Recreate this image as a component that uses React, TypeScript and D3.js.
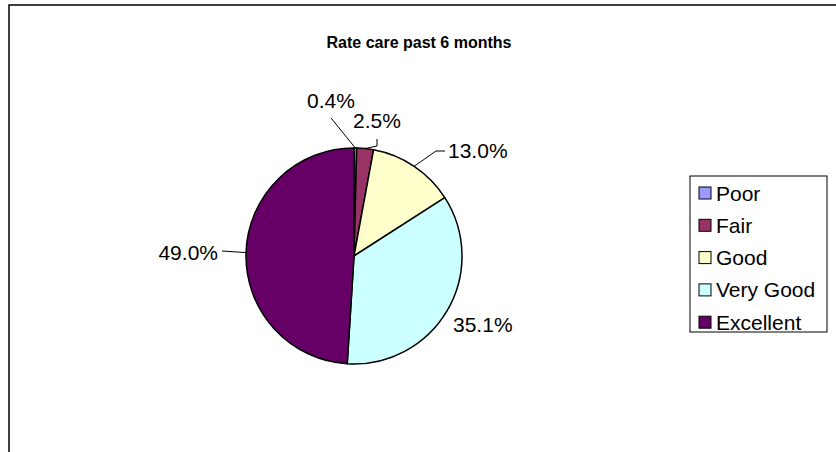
import React from "react";
import * as d3 from "d3";

const categories = ["Poor", "Fair", "Good", "Very Good", "Excellent"];
const values = [0.4, 2.5, 13.0, 35.1, 49.0];
const colors = ["#9999FF", "#993366", "#FFFFCC", "#CCFFFF", "#660066"];
const title = "Rate care past 6 months";

// label layout (text anchor point + leader elbow), in chart pixels
const labelLayout = [
  { x: 331, y: 108, anchor: "middle", leader: [[331, 118]] },
  { x: 377, y: 128, anchor: "middle", leader: [[377, 139], [377, 146]] },
  { x: 448, y: 158, anchor: "start", leader: [[445, 151], [436, 151]] },
  { x: 453, y: 332, anchor: "start", leader: [] as number[][] },
  { x: 218, y: 260, anchor: "end", leader: [[222, 251]] },
];

export default function App() {
  const W = 836, H = 452;
  const cx = 354, cy = 256, r = 108;
  const pie = d3.pie<number>().sort(null).value((d) => d);
  const arcs = pie(values);
  const arc = d3.arc<d3.PieArcDatum<number>>().innerRadius(0).outerRadius(r);
  const font = "Arial, 'Liberation Sans', sans-serif";
  const legX = 690, legTop = 176, legW = 137, rowH = 32.3, legFirst = 193;
  return (
    <svg width={W} height={H} style={{ position: "absolute", left: 0, top: 0, background: "#fff" }} fontFamily={font}>
      <rect x={9} y={5} width={W + 20} height={H + 20} fill="#fff" stroke="#000" strokeWidth={1.5} />
      <text x={419} y={48} textAnchor="middle" fontWeight="bold" fontSize={16}>{title}</text>
      <g transform={`translate(${cx},${cy})`}>
        {arcs.map((a, i) => (
          <path key={i} d={arc(a) || ""} fill={colors[i]} stroke="#000" strokeWidth={1.5} strokeLinejoin="round" />
        ))}
      </g>
      {arcs.map((a, i) => {
        const mid = (a.startAngle + a.endAngle) / 2;
        const ex = cx + r * Math.sin(mid);
        const ey = cy - r * Math.cos(mid);
        const L = labelLayout[i];
        const pts = [...L.leader, [ex, ey]];
        return (
          <g key={i}>
            {L.leader.length > 0 && (
              <polyline points={pts.map((p) => p.join(",")).join(" ")} fill="none" stroke="#000" strokeWidth={1} />
            )}
            <text x={L.x} y={L.y} textAnchor={L.anchor as any} fontSize={21}>
              {values[i].toFixed(1)}%
            </text>
          </g>
        );
      })}
      <rect x={legX} y={legTop} width={legW} height={156} fill="#fff" stroke="#000" strokeWidth={1} />
      {categories.map((c, i) => (
        <g key={c}>
          <rect x={699} y={legFirst + i * rowH - 6} width={12} height={12} fill={colors[i]} stroke="#000" strokeWidth={1} />
          <text x={716} y={legFirst + i * rowH + 7.5} fontSize={21}>{c}</text>
        </g>
      ))}
    </svg>
  );
}
